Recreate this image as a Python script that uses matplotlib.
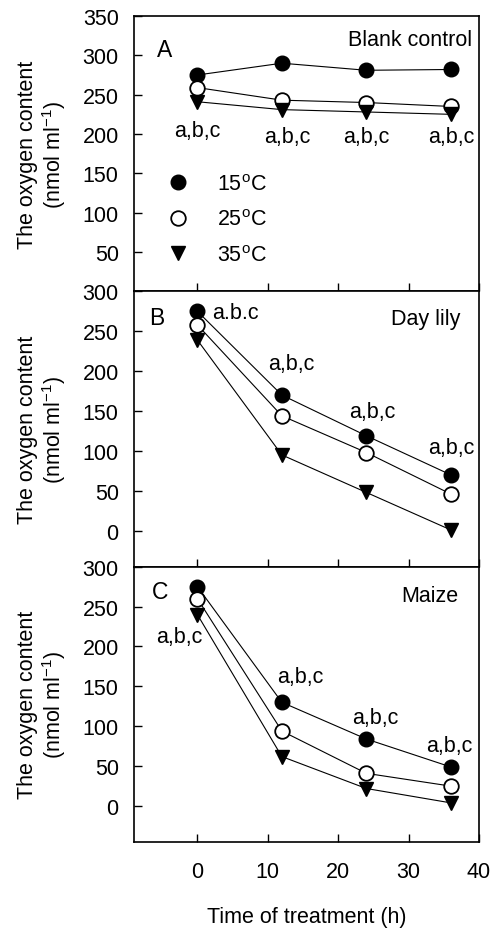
import matplotlib
matplotlib.use('Agg')
import matplotlib.pyplot as plt
from matplotlib.lines import Line2D

plt.rcParams['font.family'] = ['Liberation Sans', 'DejaVu Sans']
plt.rcParams['mathtext.fontset'] = 'custom'
plt.rcParams['mathtext.rm'] = 'Liberation Sans'
plt.rcParams['mathtext.it'] = 'Liberation Sans:italic'
plt.rcParams['mathtext.bf'] = 'Liberation Sans:bold'

# time of treatment (h)
hours = [0, 12, 24, 36]

# panel A - blank control
blank_15 = [275, 290, 281, 282]
blank_25 = [259, 243, 240, 235]
blank_35 = [241, 231, 228, 225]

# panel B - day lily
lily_15 = [275, 170, 119, 70]
lily_25 = [258, 144, 98, 46]
lily_35 = [239, 95, 48, 1]

# panel C - maize
maize_15 = [275, 130, 84, 49]
maize_25 = [260, 94, 41, 25]
maize_35 = [240, 62, 22, 4]

temps = ['15$^{\\rm o}$C', '25$^{\\rm o}$C', '35$^{\\rm o}$C']

# significance letters (x, y, text)
notes_a = [(0, 204, 'a,b,c'), (12.8, 197, 'a,b,c'), (24, 197, 'a,b,c'), (36, 197, 'a,b,c')]
notes_b = [(13.3, 209, 'a,b,c'), (24.8, 149, 'a,b,c'), (36, 104, 'a,b,c')]
notes_c = [(-2.6, 212, 'a,b,c'), (14.6, 162, 'a,b,c'), (25.3, 111, 'a,b,c'), (35.8, 76, 'a,b,c')]

panels = [
    ('A', 'Blank control', (blank_15, blank_25, blank_35), notes_a, (0, 350), range(50, 351, 50)),
    ('B', 'Day lily', (lily_15, lily_25, lily_35), notes_b, (-45, 300), range(0, 301, 50)),
    ('C', 'Maize', (maize_15, maize_25, maize_35), notes_c, (-45, 300), range(0, 301, 50)),
]
letter_pos = [(0.067, 0.88), (0.043, 0.905), (0.052, 0.91)]
name_pos = [(0.979, 0.916), (0.947, 0.902), (0.940, 0.895)]

fs = 15.5
fig, axes = plt.subplots(3, 1, figsize=(4.93, 9.29), dpi=100, sharex=True)
fig.subplots_adjust(left=0.2718, right=0.9716, top=0.9817, bottom=0.0926, hspace=0)

styles = [dict(marker='o', mfc='black', mec='black', ms=10.5),
          dict(marker='o', mfc='white', mec='black', ms=10.5, mew=1.3),
          dict(marker='v', mfc='black', mec='black', ms=9.5)]

for k, (ax, (letter, name, series, notes, ylim, yt)) in enumerate(zip(axes, panels)):
    for vals, st, lab in zip(series, styles, temps):
        ax.plot(hours, vals, color='black', lw=0.8, label=lab, **st)
    for x, y, t in notes:
        ax.text(x, y, t, ha='center', va='center', fontsize=fs)
    ax.set_ylim(*ylim)
    ax.set_yticks(list(yt))
    ax.set_xlim(-9, 40)
    ax.set_xticks([0, 10, 20, 30, 40])
    ax.tick_params(direction='in', length=6, width=1.0, labelsize=fs)
    ax.tick_params(axis='y', pad=11)
    ax.tick_params(axis='x', pad=14)
    for sp in ax.spines.values():
        sp.set_linewidth(1.2)
    ax.text(letter_pos[k][0], letter_pos[k][1], letter, transform=ax.transAxes,
            ha='left', va='center', fontsize=fs + 1)
    ax.text(name_pos[k][0], name_pos[k][1], name, transform=ax.transAxes,
            ha='right', va='center', fontsize=fs)
    ax.set_ylabel('The oxygen content\n(nmol ml$^{-1}$)', fontsize=fs, linespacing=1.12)
    ax.yaxis.set_label_coords(-0.19, 0.5)

# "a.b.c" label beside the first point of panel B
axes[1].text(2.1, 274, 'a.b.c', ha='left', va='center', fontsize=fs)

handles = [Line2D([], [], ls='none', **st) for st in styles]
axes[0].legend(handles, temps, loc='center left', bbox_to_anchor=(0.096, 0.26), frameon=False,
               fontsize=fs, handlelength=1.0, handletextpad=1.3, borderpad=0,
               borderaxespad=0, labelspacing=0.68)

axes[2].set_xlabel('Time of treatment (h)', fontsize=fs, labelpad=17)

fig.savefig('out.png', dpi=100)
plt.close(fig)
